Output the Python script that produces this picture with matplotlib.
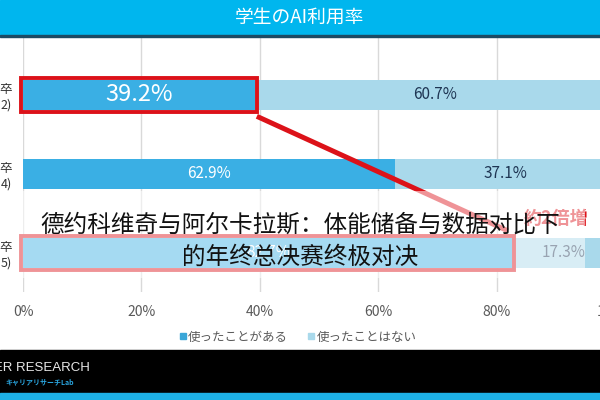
import matplotlib.pyplot as plt
from matplotlib.patches import Rectangle
from matplotlib.lines import Line2D

# data
rows = ["卒\n2)", "卒\n4)", "卒\n5)"]
used = [39.2, 62.9, 82.7]
never = [60.7, 37.1, 17.3]
series_names = ["使ったことがある", "使ったことはない"]
xticks = [0, 20, 40, 60, 80, 100]
title = "学生のAI利用率"
note = "約2倍増"
caption = ["德约科维奇与阿尔卡拉斯：体能储备与数据对比下", "的年终总决赛终极对决"]
brand = "CAREER RESEARCH"
brand_sub = "キャリアリサーチLab"

DARK = "#3aafe4"
LIGHT = "#a9d9eb"
RED = "#dc1219"
NAVY = "#1e3553"
GREY = "#595959"

plt.rcParams['font.family'] = ['Noto Sans CJK JP', 'DejaVu Sans']

W, H = 600, 400
fig = plt.figure(figsize=(6, 4), dpi=100)


def fx(px):
    return px / W


def fy(py):
    return 1 - py / H


# header band
fig.patches.append(Rectangle((0, fy(35)), 1, 35 / H, transform=fig.transFigure,
                             color="#00b6ee", zorder=0))
fig.patches.append(Rectangle((0, fy(37)), 1, 2 / H, transform=fig.transFigure,
                             color="#1d4a63", zorder=0))
fig.text(0.5, fy(17), title, color="white", fontsize=13.5, ha="center", va="center")

# plot area: 0% at x=23, 100% at x=615 (past the right edge)
ax = fig.add_axes([fx(23), fy(292), fx(615 - 23), (292 - 37) / H])
y = list(range(len(rows)))
bar_h = 0.38
c_used = ax.barh(y, used, height=bar_h, color=DARK, zorder=2)
c_never = ax.barh(y, never, left=used, height=bar_h, color=LIGHT, zorder=2)

t_used = ax.bar_label(c_used, labels=[f"{v}%" for v in used], label_type="center",
                      color="white", fontsize=11)
t_used[0].set_fontsize(17)
ax.bar_label(c_never, labels=[f"{v}%" for v in never], label_type="center",
             color=NAVY, fontsize=11)

ax.set_xlim(0, 100)
ax.set_ylim(2.494, -0.734)
ax.set_xticks(xticks, [f"{t}%" for t in xticks])
ax.set_yticks(y, rows)
ax.tick_params(axis="x", length=0, pad=9, labelsize=10, labelcolor=GREY)
ax.tick_params(axis="y", length=0, pad=8, labelsize=9, labelcolor="#333333")
ax.grid(axis="x", color="#d9d9d9", lw=1, zorder=0)
ax.set_axisbelow(True)
for s in ax.spines.values():
    s.set_visible(False)

# red highlight boxes around the first and last "used" bars
pad_y = 0.025
for i in (0, 2):
    ax.add_patch(Rectangle((-0.3, y[i] - bar_h / 2 - pad_y), used[i] + 0.6, bar_h + 2 * pad_y,
                           fill=False, ec=RED, lw=2.8, zorder=4, clip_on=False))
ax.add_line(Line2D([used[0] + 0.3, used[2] - 0.8], [y[0] + 0.27, y[2] - 0.28],
                   color=RED, lw=3.6, zorder=4, solid_capstyle="butt"))
ax.text(90, 1.56, note, color=RED, fontsize=13, fontweight="bold",
        ha="center", va="center", clip_on=False, zorder=4)

# legend
handles = [Line2D([], [], ls="", marker="s", ms=5, color=c) for c in ("#3aa6d8", LIGHT)]
fig.legend(handles, series_names, loc="center", bbox_to_anchor=(fx(297), fy(337)), ncol=2,
           frameon=False, fontsize=9, labelcolor=GREY, handletextpad=0.05,
           columnspacing=1.4, handlelength=0.8)

# washed-out caption overlay
fig.patches.append(Rectangle((fx(18), fy(278)), fx(585 - 18), (278 - 191) / H,
                             transform=fig.transFigure,
                             color="white", alpha=0.55, lw=0, zorder=5))
fig.text(0.5, fy(225), caption[0], family=['Noto Sans CJK SC', 'DejaVu Sans'],
         fontsize=17, color="#111111", ha="center", va="center", zorder=6)
fig.text(0.5, fy(257), caption[1], family=['Noto Sans CJK SC', 'DejaVu Sans'],
         fontsize=17, color="#111111", ha="center", va="center", zorder=6)

# footer bands
fig.patches.append(Rectangle((0, fy(393)), 1, (393 - 350) / H, transform=fig.transFigure,
                             color="black", zorder=0))
fig.patches.append(Rectangle((0, 0), 1, 7 / H, transform=fig.transFigure,
                             color="#1db0e6", zorder=0))
fig.text(fx(90), fy(368), brand, color="#e8e8e8", fontsize=9.5, ha="right", va="center",
         family="Liberation Sans")
fig.text(fx(5), fy(382), brand_sub, color="#2aa6e0", fontsize=5, fontweight="bold",
         ha="left", va="center")

fig.savefig("out.png", dpi=100)
